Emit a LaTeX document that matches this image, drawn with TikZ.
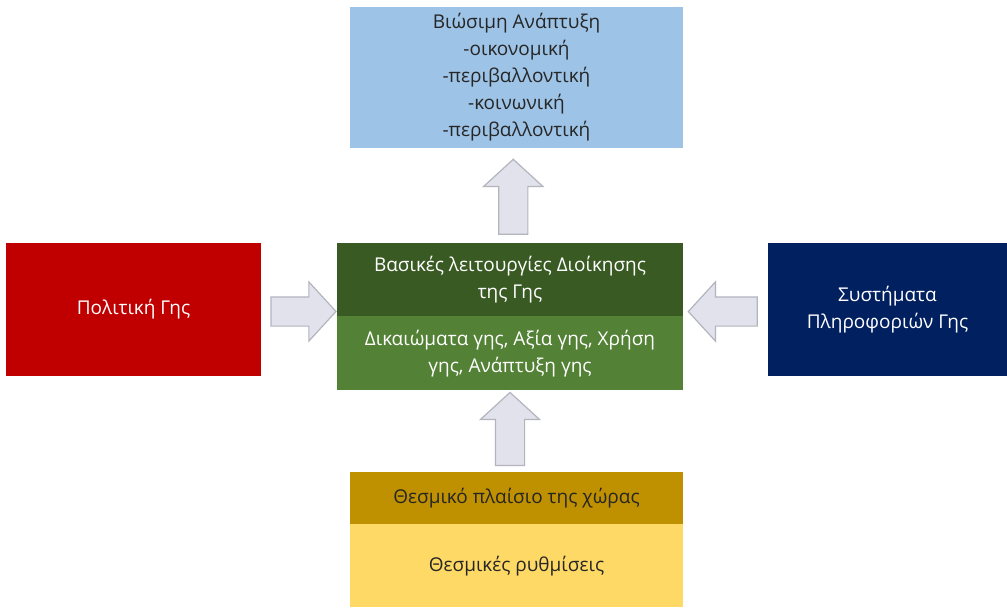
\documentclass[tikz,border=0pt]{standalone}
\usepackage{fontspec}
\setmainfont{Open Sans}
\usetikzlibrary{shapes.arrows,calc}
\definecolor{skyblue}{HTML}{9DC3E6}
\definecolor{landred}{HTML}{C00000}
\definecolor{navy}{HTML}{002060}
\definecolor{darkgreen}{HTML}{3A5A24}
\definecolor{midgreen}{HTML}{538135}
\definecolor{gold}{HTML}{BF9000}
\definecolor{sand}{HTML}{FFD966}
\definecolor{arrowfill}{HTML}{E2E2EC}
\definecolor{arrowline}{HTML}{B4B4BE}
\begin{document}
\begin{tikzpicture}[x=1pt,y=-1pt]
    \tikzset{Box/.style={inner sep=0pt, align=center, font=\fontsize{19}{27}\selectfont},
        BigArrow/.style={single arrow, draw=arrowline, fill=arrowfill, line width=1.2pt,
            inner sep=14pt, single arrow head extend=15pt, single arrow tip angle=95}}
    \useasboundingbox[fill=white] (0,0) rectangle (1007,608);
    % boxes
    \node[Box, fill=skyblue, minimum width=333pt, minimum height=141pt, text=black!85] (Goal) at (516.5,77.5)
        {Βιώσιμη Ανάπτυξη\\-οικονομική\\-περιβαλλοντική\\-κοινωνική\\-περιβαλλοντική};
    \node[Box, fill=darkgreen, minimum width=346pt, minimum height=73pt, text=white] (Core) at (510,279.5)
        {Βασικές λειτουργίες Διοίκησης\\της Γης};
    \node[Box, fill=midgreen, minimum width=346pt, minimum height=74pt, text=white, anchor=north] (Tasks) at (Core.south)
        {Δικαιώματα γης, Αξία γης, Χρήση\\γης, Ανάπτυξη γης};
    \node[Box, fill=landred, minimum width=255pt, minimum height=133pt, text=white] (Policy) at (133.5,309.5)
        {Πολιτική Γης};
    \node[Box, fill=navy, minimum width=239pt, minimum height=133pt, text=white] (LIS) at (887.5,309.5)
        {Συστήματα\\Πληροφοριών Γης};
    \node[Box, fill=gold, minimum width=333pt, minimum height=52pt, text=black!85] (Frame) at (516.5,498)
        {Θεσμικό πλαίσιο της χώρας};
    \node[Box, fill=sand, minimum width=333pt, minimum height=83pt, text=black!85, anchor=north] (Rules) at (Frame.south)
        {Θεσμικές ρυθμίσεις};
    % arrows
    \node[BigArrow, rotate=90, minimum height=75pt] (ToGoal) at ($(Core.north)!0.5!(Goal.south)+(0,8)$) {};
    \node[BigArrow, minimum height=65pt, anchor=tip] (FromPolicy) at ($(Core.west|-Policy.east)+(0,2)$) {};
    \node[BigArrow, rotate=180, minimum height=69pt] (FromLIS) at ($(Core.east|-LIS.west)!0.5!(LIS.west)+(4,2)$) {};
    \node[BigArrow, rotate=90, minimum height=73pt, anchor=tip] (FromFrame) at ($(Tasks.south)+(0,1)$) {};
\end{tikzpicture}
\end{document}
